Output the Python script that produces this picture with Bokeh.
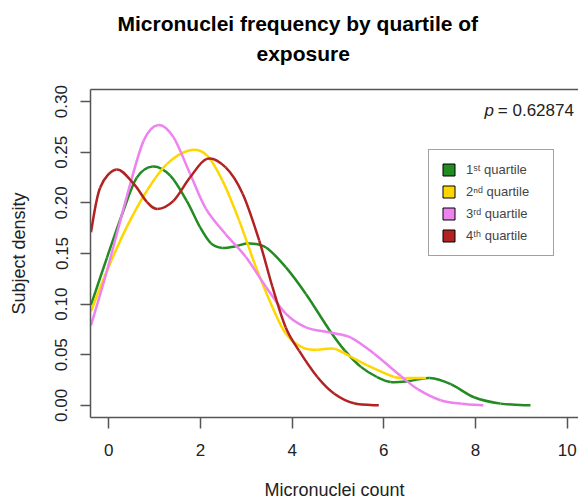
import math
from bokeh.plotting import figure
from bokeh.models import (Range1d, LinearAxis, FixedTicker, Label, Legend, LegendItem, Title)
from bokeh.embed import file_html
from bokeh.resources import INLINE

# ---- data (density curves) ----
q1_x = [-0.39, -0.04, 0.32, 0.61, 0.96, 1.34, 1.70, 1.99, 2.23, 2.48, 2.75, 3.06, 3.43, 3.86,
        4.30, 4.82, 5.15, 5.50, 5.85, 6.15, 6.55, 7.00, 7.46, 7.97, 8.55, 9.20]
q1_y = [0.099, 0.146, 0.1925, 0.225, 0.236, 0.227, 0.202, 0.176, 0.160, 0.1555, 0.157, 0.160,
        0.156, 0.1365, 0.110, 0.074, 0.054, 0.038, 0.028, 0.023, 0.024, 0.027, 0.021, 0.008,
        0.0017, 0.0]

q2_x = [-0.39, -0.04, 0.39, 0.83, 1.27, 1.77, 2.14, 2.48, 2.84, 3.21, 3.57, 3.86, 4.23, 4.55,
        4.92, 5.28, 5.64, 6.23, 6.55, 6.92]
q2_y = [0.093, 0.133, 0.176, 0.212, 0.2385, 0.252, 0.247, 0.222, 0.183, 0.1365, 0.097, 0.071,
        0.057, 0.055, 0.056, 0.048, 0.0395, 0.028, 0.027, 0.027]

q3_x = [-0.39, -0.04, 0.39, 0.76, 1.08, 1.41, 1.77, 2.12, 2.55, 2.99, 3.43, 3.86, 4.30, 4.82,
        5.28, 5.79, 6.37, 6.74, 7.24, 7.70, 8.17]
q3_y = [0.079, 0.133, 0.206, 0.2615, 0.277, 0.265, 0.229, 0.194, 0.169, 0.1465, 0.117, 0.0905,
        0.077, 0.072, 0.067, 0.051, 0.029, 0.016, 0.005, 0.0015, 0.0]

q4_x = [-0.39, -0.19, 0.17, 0.54, 0.83, 1.06, 1.41, 1.77, 2.14, 2.55, 2.92, 3.28, 3.57, 3.86,
        4.15, 4.55, 4.92, 5.35, 5.89]
q4_y = [0.171, 0.215, 0.233, 0.219, 0.201, 0.194, 0.202, 0.225, 0.2435, 0.235, 0.209, 0.163,
        0.117, 0.077, 0.054, 0.028, 0.0115, 0.002, 0.0]

series_labels = ["1\u02e2\u1d57 quartile", "2\u207f\u1d48 quartile",
                 "3\u02b3\u1d48 quartile", "4\u1d57\u02b0 quartile"]
series_colors = ["#228B22", "#FFD700", "#EE82EE", "#B22222"]

x_ticks = [0, 2, 4, 6, 8, 10]
y_ticks = [0.0, 0.05, 0.10, 0.15, 0.20, 0.25, 0.30]
y_tick_labels = ["0.00", "0.05", "0.10", "0.15", "0.20", "0.25", "0.30"]

title_lines = ["Micronuclei frequency by quartile of", "exposure"]
x_label = "Micronuclei count"
y_label = "Subject density"
p_value_text = "= 0.62874"

FONT = "Liberation Sans"
AX_COL = "#555555"


def smooth_segments(xs, ys):
    """Catmull-Rom -> cubic Bezier control points through the read points."""
    n = len(xs)
    X = [xs[0]] + list(xs) + [xs[-1]]
    Y = [ys[0]] + list(ys) + [ys[-1]]
    x0, y0, x1, y1, cx0, cy0, cx1, cy1 = [], [], [], [], [], [], [], []
    for i in range(1, n):
        a, b, c, d = i - 1, i, i + 1, i + 2
        x0.append(X[b]); y0.append(Y[b]); x1.append(X[c]); y1.append(Y[c])
        cx0.append(X[b] + (X[c] - X[a]) / 6.0); cy0.append(Y[b] + (Y[c] - Y[a]) / 6.0)
        cx1.append(X[c] - (X[d] - X[b]) / 6.0); cy1.append(Y[c] - (Y[d] - Y[b]) / 6.0)
    return dict(x0=x0, y0=y0, x1=x1, y1=y1, cx0=cx0, cy0=cy0, cx1=cx1, cy1=cy1)


p = figure(width=578, height=502, output_backend="svg", toolbar_location=None,
           x_range=Range1d(-0.4, -0.4 + 488 / 45.83), y_range=Range1d(-0.012, 0.312),
           x_axis_location=None, y_axis_location=None,
           min_border_left=90, min_border_right=0, min_border_top=89, min_border_bottom=85)
p.outline_line_color = None
p.xgrid.visible = False
p.ygrid.visible = False
p.background_fill_color = "white"

xax = LinearAxis(ticker=FixedTicker(ticks=x_ticks))
xax.axis_line_color = AX_COL
xax.axis_line_width = 1.5
xax.major_tick_line_color = AX_COL
xax.major_tick_line_width = 1.5
xax.major_tick_out = 11
xax.major_tick_in = 0
xax.minor_tick_line_color = None
xax.major_label_text_font = FONT
xax.major_label_text_font_size = "17px"
xax.major_label_text_color = "#222222"
xax.major_label_standoff = 15
xax.axis_label = x_label
xax.axis_label_text_font = FONT
xax.axis_label_text_font_size = "18px"
xax.axis_label_text_font_style = "normal"
xax.axis_label_text_color = "#222222"
xax.axis_label_standoff = 21
p.add_layout(xax, "below")

yax = LinearAxis(ticker=FixedTicker(ticks=y_ticks))
yax.major_label_overrides = {t: l for t, l in zip(y_ticks, y_tick_labels)}
yax.axis_line_color = AX_COL
yax.axis_line_width = 1.5
yax.major_tick_line_color = AX_COL
yax.major_tick_line_width = 1.5
yax.major_tick_out = 10
yax.major_tick_in = 0
yax.minor_tick_line_color = None
yax.major_label_text_font = FONT
yax.major_label_text_font_size = "17px"
yax.major_label_text_color = "#222222"
yax.major_label_orientation = "vertical"
yax.major_label_standoff = 13
yax.axis_label = y_label
yax.axis_label_text_font = FONT
yax.axis_label_text_font_size = "18px"
yax.axis_label_text_font_style = "normal"
yax.axis_label_text_color = "#222222"
yax.axis_label_standoff = 24
p.add_layout(yax, "left")

top = LinearAxis(ticker=FixedTicker(ticks=[]))
top.axis_line_color = AX_COL
top.axis_line_width = 1.5
top.major_tick_line_color = None
top.minor_tick_line_color = None
top.major_label_text_font_size = "0px"
top.major_label_standoff = 0
p.add_layout(top, "above")

# blank spacer between the frame and the two-line title
p.add_layout(Title(text=" ", text_font=FONT, text_font_size="18px", standoff=0), "above")
p.add_layout(Title(text=title_lines[1], align="left", offset=166, text_font=FONT,
                   text_font_size="21px", text_font_style="bold", text_color="black",
                   standoff=6), "above")
p.add_layout(Title(text=title_lines[0], align="left", offset=27, text_font=FONT,
                   text_font_size="21px", text_font_style="bold", text_color="black",
                   standoff=4), "above")

xs = [q1_x, q2_x, q3_x, q4_x]
ys = [q1_y, q2_y, q3_y, q4_y]
items = []
for sx, sy, col, lab in zip(xs, ys, series_colors, series_labels):
    seg = smooth_segments(sx, sy)
    p.bezier(x0=seg["x0"], y0=seg["y0"], x1=seg["x1"], y1=seg["y1"],
             cx0=seg["cx0"], cy0=seg["cy0"], cx1=seg["cx1"], cy1=seg["cy1"],
             line_color=col, line_width=2.5)
    r = p.rect(x=[math.nan], y=[math.nan], width=1, height=1, fill_color=col,
               line_color="black", line_width=1)
    items.append(LegendItem(label=lab, renderers=[r]))

legend = Legend(items=items, location=(338, 161))
legend.border_line_color = "#444444"
legend.border_line_width = 1.5
legend.background_fill_color = "white"
legend.background_fill_alpha = 1.0
legend.label_text_font = FONT
legend.label_text_font_size = "13px"
legend.glyph_width = 15
legend.glyph_height = 15
legend.label_height = 15
legend.label_width = 75
legend.spacing = 7
legend.padding = 12
legend.label_standoff = 10
legend.margin = 0
p.add_layout(legend, "center")


def ydat(py):
    return -0.012 + (417 - py) / 328 * 0.324


def xdat(px):
    return (px - 108) / 45.83


p.add_layout(Label(x=xdat(493), y=ydat(110), text="p", text_align="right",
                   text_baseline="middle", text_font=FONT, text_font_size="17px",
                   text_font_style="italic", text_color="#222222"))
p.add_layout(Label(x=xdat(497), y=ydat(110), text=p_value_text, text_align="left",
                   text_baseline="middle", text_font=FONT, text_font_size="17px",
                   text_color="#222222"))

open("out.html", "w").write(file_html(p, INLINE))
